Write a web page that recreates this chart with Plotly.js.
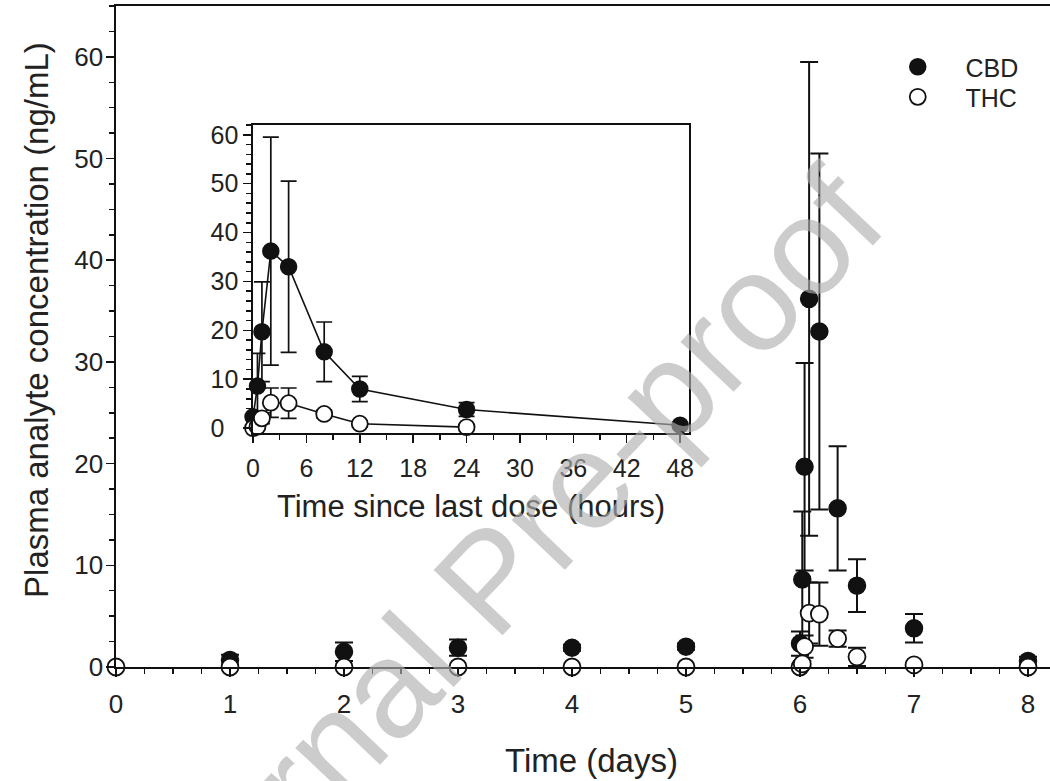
<!DOCTYPE html>
<html>
<head>
<meta charset="utf-8">
<script src="https://cdn.plot.ly/plotly-3.0.1.min.js"></script>
<style>
html,body{margin:0;padding:0;background:#fff;}
#wrap{position:relative;width:1050px;height:781px;overflow:hidden;}
#chart{width:1050px;height:781px;}
#wm{position:absolute;left:489px;top:580px;transform:translate(-50%,-50%) rotate(-46.5deg);
  font-family:'Liberation Sans',Arial,sans-serif;font-size:138px;line-height:1;white-space:nowrap;
  color:rgba(175,175,175,0.64);pointer-events:none;}
</style>
</head>
<body>
<div id="wrap"><div id="chart"></div><div id="wm">Journal Pre-proof</div></div>
<script>
// Main panel (days)
const cbdDays = [1, 2, 3, 4, 5, 6, 6.02, 6.04, 6.08, 6.17, 6.33, 6.5, 7, 8];
const cbdMain = [0.7, 1.5, 1.9, 1.9, 2.0, 2.3, 8.6, 19.7, 36.2, 33.0, 15.6, 8.0, 3.8, 0.6];
const cbdMainErr = [0.5, 0.9, 0.8, 0.3, 0.3, 1.2, 6.7, 10.2, 23.3, 17.5, 6.1, 2.6, 1.4, 0.4];
const thcDays = [0, 1, 2, 3, 4, 5, 6, 6.02, 6.04, 6.08, 6.17, 6.33, 6.5, 7, 8];
const thcMain = [0, 0, 0, 0, 0, 0, 0, 0.3, 2.0, 5.3, 5.2, 2.8, 1.0, 0.2, 0.0];
const thcMainErr = [0, 0, 0, 0, 0, 0, 0.1, 0.3, 1.1, 3.0, 3.1, 0.8, 0.9, 0.2, 0.1];
// Inset (hours since last dose)
const cbdHours = [0, 0.5, 1, 2, 4, 8, 12, 24, 48];
const cbdInset = [2.3, 8.6, 19.7, 36.2, 33.0, 15.6, 8.0, 3.8, 0.6];
const cbdInsetErr = [1.2, 6.7, 10.2, 23.3, 17.5, 6.1, 2.6, 1.4, 0.4];
const thcHours = [0, 0.5, 1, 2, 4, 8, 12, 24];
const thcInset = [0, 0.3, 2.0, 5.2, 5.1, 2.9, 0.9, 0.2];
const thcInsetErr = [0.1, 0.3, 1.1, 3.0, 3.1, 0.8, 0.6, 0.2];
const insetYTickVals = [0, 10, 20, 30, 40, 50, 60];
const insetYTickText = ['0\u00a0\u00a0', '10', '20', '30', '40', '50', '60'];

const FONT = 'Liberation Sans, Arial, sans-serif';
const TXT = '#222';
const mkErr = (arr, w, t) => ({type: 'data', array: arr, visible: true, color: '#111', thickness: t, width: w});

const traces = [
  {x: cbdDays, y: cbdMain, name: '\u00a0\u00a0\u00a0\u00a0CBD', type: 'scatter', mode: 'markers', cliponaxis: false,
   legend: 'legend',
   marker: {symbol: 'circle', size: 17, color: '#111', line: {color: '#111', width: 1.5}},
   error_y: mkErr(cbdMainErr, 9, 2), xaxis: 'x', yaxis: 'y'},
  {x: thcDays, y: thcMain, name: '\u00a0\u00a0\u00a0\u00a0THC', type: 'scatter', mode: 'markers', cliponaxis: false,
   legend: 'legend2',
   marker: {symbol: 'circle', size: 17, color: '#fff', line: {color: '#111', width: 1.8}},
   error_y: mkErr(thcMainErr, 9, 2), xaxis: 'x', yaxis: 'y'},
  {x: cbdHours, y: cbdInset, type: 'scatter', mode: 'lines+markers', showlegend: false, cliponaxis: false,
   line: {color: '#111', width: 1.6},
   marker: {symbol: 'circle', size: 16, color: '#111', line: {color: '#111', width: 1.5}},
   error_y: mkErr(cbdInsetErr, 8, 1.7), xaxis: 'x2', yaxis: 'y2'},
  {x: thcHours, y: thcInset, type: 'scatter', mode: 'lines+markers', showlegend: false, cliponaxis: false,
   line: {color: '#111', width: 1.6},
   marker: {symbol: 'circle', size: 16, color: '#fff', line: {color: '#111', width: 1.8}},
   error_y: mkErr(thcInsetErr, 8, 1.7), xaxis: 'x2', yaxis: 'y2'}
];

const axisBase = {showline: true, linecolor: '#111', linewidth: 1.6, showgrid: false, zeroline: false,
  ticks: 'outside', tickcolor: '#111', tickwidth: 1.5, ticklen: 8, tickfont: {family: FONT, size: 25, color: TXT}};
const legendBase = {xanchor: 'left', yanchor: 'top', bgcolor: 'rgba(0,0,0,0)',
  font: {family: FONT, size: 25, color: TXT}};

const layout = {
  width: 1050, height: 781,
  margin: {l: 116, r: 0, t: 6, b: 114},
  paper_bgcolor: '#fff', plot_bgcolor: '#fff',
  font: {family: FONT, color: TXT},
  showlegend: true,
  legend: Object.assign({}, legendBase, {x: 0.837, y: 0.9425}),
  legend2: Object.assign({}, legendBase, {x: 0.837, y: 0.897}),
  xaxis: Object.assign({}, axisBase, {domain: [0, 1], range: [0, 8.193], mirror: true, dtick: 1, tick0: 0,
    tickfont: {family: FONT, size: 26, color: TXT}, ticklabelstandoff: 5,
    minor: {dtick: 0.25, ticks: 'outside', ticklen: 5, tickwidth: 1.5, tickcolor: '#111'}, anchor: 'y'}),
  yaxis: Object.assign({}, axisBase, {domain: [0, 1], range: [0, 65], dtick: 10, tick0: 0,
    tickfont: {family: FONT, size: 26, color: TXT}, ticklabelstandoff: -2,
    minor: {dtick: 2.5, ticks: 'outside', ticklen: 5, tickwidth: 1.5, tickcolor: '#111'}, anchor: 'x'}),
  xaxis2: Object.assign({}, axisBase, {domain: [0.1467, 0.6135], range: [0, 49], mirror: true, dtick: 6, tick0: 0,
    ticklabelstandoff: 4,
    minor: {dtick: 3, ticks: 'outside', ticklen: 5, tickwidth: 1.5, tickcolor: '#111'},
    title: {text: 'Time since last dose (hours)', font: {family: FONT, size: 31, color: TXT}, standoff: 14}, anchor: 'y2'}),
  yaxis2: Object.assign({}, axisBase, {domain: [0.354, 0.820], range: [-1, 62], mirror: true,
    tickmode: 'array', tickvals: insetYTickVals, ticktext: insetYTickText,
    minor: {dtick: 2, tick0: 0, ticks: 'outside', ticklen: 5, tickwidth: 1.5, tickcolor: '#111'}, anchor: 'x2'}),
  annotations: [
    {text: 'Time (days)', xref: 'paper', yref: 'paper', x: 0.5096, y: -0.1407, xanchor: 'center', yanchor: 'middle',
     showarrow: false, font: {family: FONT, size: 33, color: TXT}},
    {text: 'Plasma analyte concentration (ng/mL)', xref: 'paper', yref: 'paper', x: -0.0846, y: 0.525,
     xanchor: 'center', yanchor: 'middle', textangle: -90, showarrow: false, font: {family: FONT, size: 33, color: TXT}}
  ]
};

Plotly.newPlot('chart', traces, layout, {staticPlot: true, displayModeBar: false});
</script>
</body>
</html>
